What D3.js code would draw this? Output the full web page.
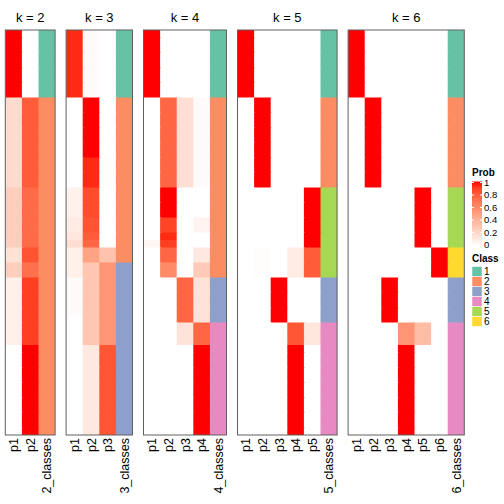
<!DOCTYPE html>
<html><head><meta charset="utf-8">
<script src="https://cdn.jsdelivr.net/npm/d3@7"></script>
<style>body{margin:0;background:#fff}svg{display:block}text{font-family:"Liberation Sans",Arial,sans-serif}</style>
</head><body><svg id="c" width="504" height="504"></svg>
<script>
// Row runs: [number of rows, class, [p1..pk]] (top to bottom, 54 rows total)
const k2Rows = [
  [9, 1, [1, 0]],
  [12, 2, [0.19, 0.8]],
  [8, 2, [0.26, 0.74]],
  [2, 2, [0.16, 0.83]],
  [2, 2, [0.26, 0.72]],
  [9, 2, [0.08, 0.9]],
  [12, 2, [0, 1]]
];
const k3Rows = [
  [9, 1, [0.95, 0.02, 0]],
  [8, 2, [0, 1, 0]],
  [4, 2, [0, 0.95, 0.01]],
  [4, 2, [0.07, 0.86, 0]],
  [2, 2, [0.1, 0.83, 0]],
  [1, 2, [0.13, 0.8, 0]],
  [1, 2, [0.18, 0.76, 0]],
  [2, 2, [0.08, 0.48, 0.32]],
  [2, 3, [0.08, 0.3, 0.55]],
  [5, 3, [0.02, 0.3, 0.55]],
  [4, 3, [0, 0.3, 0.55]],
  [12, 3, [0, 0.12, 0.82]]
];
const k4Rows = [
  [9, 1, [1, 0, 0, 0]],
  [12, 2, [0, 0.76, 0.17, 0.02]],
  [4, 2, [0, 1, 0, 0]],
  [2, 2, [0, 0.88, 0, 0.06]],
  [1, 2, [0, 0.95, 0, 0]],
  [1, 2, [0.05, 0.9, 0, 0]],
  [2, 2, [0, 0.76, 0, 0.12]],
  [2, 2, [0, 0.6, 0, 0.28]],
  [6, 3, [0, 0, 0.76, 0.15]],
  [3, 4, [0, 0, 0.15, 0.76]],
  [12, 4, [0, 0, 0, 1]]
];
const k5Rows = [
  [9, 1, [1, 0, 0, 0, 0]],
  [12, 2, [0, 1, 0, 0, 0]],
  [8, 5, [0, 0, 0, 0, 1]],
  [4, 5, [0, 0.01, 0, 0.1, 0.8]],
  [6, 3, [0, 0, 1, 0, 0]],
  [3, 4, [0, 0, 0, 0.82, 0.13]],
  [12, 4, [0, 0, 0, 1, 0]]
];
const k6Rows = [
  [9, 1, [1, 0, 0, 0, 0, 0]],
  [12, 2, [0, 1, 0, 0, 0, 0]],
  [8, 5, [0, 0, 0, 0, 1, 0]],
  [4, 6, [0, 0, 0, 0, 0, 1]],
  [6, 3, [0, 0, 1, 0, 0, 0]],
  [3, 4, [0, 0, 0, 0.55, 0.35, 0]],
  [12, 4, [0, 0, 0, 1, 0, 0]]
];
const kValues = [2, 3, 4, 5, 6];
const classLabels = ["1", "2", "3", "4", "5", "6"];
const classColors = ["#66C2A5", "#FC8D62", "#8DA0CB", "#E78AC3", "#A6D854", "#FFD92F"];
const probTicks = [0, 0.2, 0.4, 0.6, 0.8, 1];
const panelRows = [k2Rows, k3Rows, k4Rows, k5Rows, k6Rows];

const svg = d3.select("#c");
const defs = svg.append("defs");
const probColor = d3.scaleLinear().domain([0, 1]).range(["#ffffff", "#ff0000"]).interpolate(d3.interpolateLab);
const classColor = d3.scaleOrdinal().domain(classLabels).range(classColors);

const yTop = 30, yBottom = 435, cellW = 16.6, gap = 11, left0 = 5.3;
let xOff = left0;

kValues.forEach((k, pi) => {
  const rows = [];
  panelRows[pi].forEach(([n, cls, ps]) => { for (let i = 0; i < n; i++) rows.push({cls: String(cls), ps}); });
  const cols = d3.range(1, k + 1).map(i => "p" + i).concat([k + "_classes"]);
  const w = cols.length * cellW;
  const x = d3.scaleBand().domain(cols).range([xOff, xOff + w]);
  const y = d3.scaleBand().domain(d3.range(rows.length)).range([yTop, yBottom]);
  defs.append("clipPath").attr("id", "clip" + k).append("rect")
    .attr("x", xOff).attr("y", yTop).attr("width", w).attr("height", yBottom - yTop);
  const g = svg.append("g");
  const cells = g.append("g").attr("clip-path", `url(#clip${k})`);
  rows.forEach((r, ri) => {
    r.ps.forEach((p, ci) => {
      cells.append("rect").attr("x", x(cols[ci])).attr("y", y(ri))
        .attr("width", x.bandwidth() + 1).attr("height", y.bandwidth() + 1)
        .attr("fill", probColor(p));
    });
    cells.append("rect").attr("x", x(cols[k])).attr("y", y(ri))
      .attr("width", x.bandwidth() + 1).attr("height", y.bandwidth() + 1)
      .attr("fill", classColor(r.cls));
  });
  g.append("rect").attr("x", xOff).attr("y", yTop).attr("width", w).attr("height", yBottom - yTop)
    .attr("fill", "none").attr("stroke", "#606060").attr("stroke-width", 1);
  g.append("text").attr("x", xOff + w / 2).attr("y", 22).attr("text-anchor", "middle")
    .attr("font-size", 13).text("k = " + k);
  cols.forEach(c => {
    g.append("text")
      .attr("transform", `translate(${x(c) + x.bandwidth() / 2 + 4.5},${yBottom + 3}) rotate(-90)`)
      .attr("text-anchor", "end").attr("font-size", 12.5).text(c);
  });
  xOff += w + gap;
});

// Prob legend
const lx = 472;
const ly = d3.scaleLinear().domain([0, 1]).range([245, 182.5]);
svg.append("text").attr("x", lx).attr("y", 175.5).attr("font-size", 10).attr("font-weight", "bold").text("Prob");
const grad = defs.append("linearGradient").attr("id", "pg")
  .attr("x1", 0).attr("y1", 1).attr("x2", 0).attr("y2", 0);
d3.range(0, 1.0001, 0.1).forEach(t => grad.append("stop").attr("offset", t).attr("stop-color", probColor(t)));
svg.append("rect").attr("x", lx).attr("y", 181.5).attr("width", 10).attr("height", 64.5).attr("fill", "url(#pg)");
probTicks.forEach(t => {
  svg.append("line").attr("x1", lx).attr("x2", lx + 2).attr("y1", ly(t)).attr("y2", ly(t)).attr("stroke", "#fff");
  svg.append("line").attr("x1", lx + 8).attr("x2", lx + 10).attr("y1", ly(t)).attr("y2", ly(t)).attr("stroke", "#fff");
  svg.append("text").attr("x", lx + 12).attr("y", ly(t) + 3.4).attr("font-size", 9.5).text(d3.format("")(t));
});

// Class legend
svg.append("text").attr("x", lx).attr("y", 262).attr("font-size", 10).attr("font-weight", "bold").text("Class");
classLabels.forEach((c, i) => {
  const yy = 266.5 + i * 10;
  svg.append("rect").attr("x", lx).attr("y", yy).attr("width", 10).attr("height", 10).attr("fill", classColor(c))
    .attr("stroke", "#fff").attr("stroke-width", 0.5);
  svg.append("text").attr("x", lx + 12).attr("y", yy + 8.6).attr("font-size", 10).text(c);
});
</script></body></html>
